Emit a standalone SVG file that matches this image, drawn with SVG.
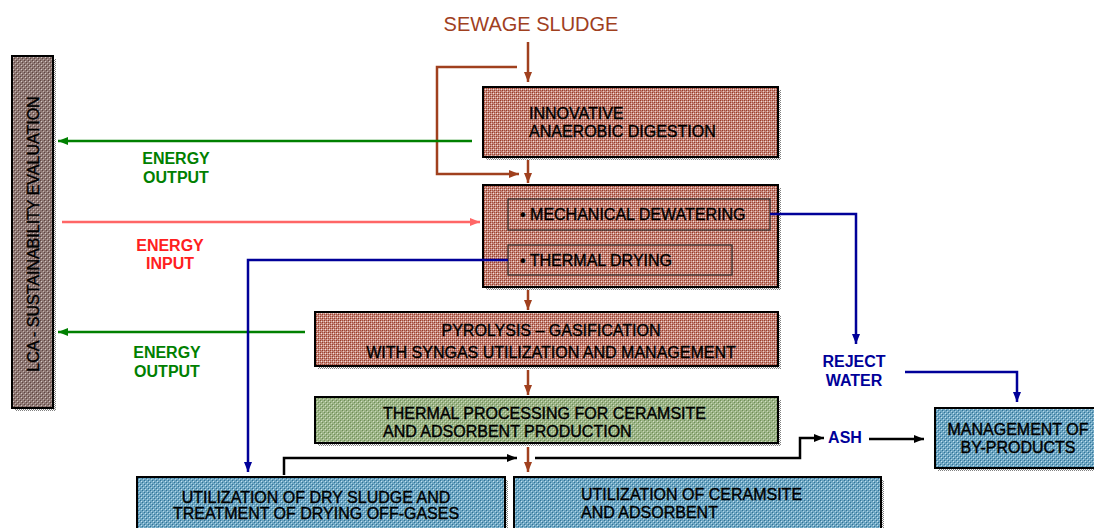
<svg xmlns="http://www.w3.org/2000/svg" width="1094" height="528" viewBox="0 0 1094 528">
<style>
.box{stroke:#000;stroke-width:2}
.bt{font-family:"Liberation Sans",Arial,sans-serif;font-size:16px;fill:#000;stroke:#000;stroke-width:0.4}
.lbl{font-family:"Liberation Sans",Arial,sans-serif;font-size:16px;font-weight:bold;text-anchor:middle}
.c{fill:none;stroke-width:2.5}
.br{stroke:#A0401E}
.gr{stroke:#008000}
.rd{stroke:#FF6666}
.bl{stroke:#000099}
.bk{stroke:#000}
.inner{fill:none;stroke:#2a2a2a;stroke-width:1.2}
</style>
<defs>
<pattern id="pBrown" width="4" height="4" patternUnits="userSpaceOnUse">
<rect width="4" height="4" fill="#C4857A"/>
<rect x="0" y="0" width="1" height="1" fill="#983A26"/>
<rect x="2" y="2" width="1" height="1" fill="#983A26"/>
<rect x="2" y="0" width="1" height="1" fill="#A4503E"/>
<rect x="0" y="2" width="1" height="1" fill="#A4503E"/>
<rect x="1" y="1" width="1" height="1" fill="#F4E0DC"/>
<rect x="3" y="3" width="1" height="1" fill="#ECCCC4"/>
<rect x="3" y="1" width="1" height="1" fill="#DCB0A6"/>
</pattern>
<pattern id="pGreen" width="4" height="4" patternUnits="userSpaceOnUse">
<rect width="4" height="4" fill="#9CB487"/>
<rect x="0" y="0" width="1" height="1" fill="#6E8E56"/>
<rect x="2" y="2" width="1" height="1" fill="#6E8E56"/>
<rect x="1" y="1" width="1" height="1" fill="#D4E2C6"/>
<rect x="3" y="3" width="1" height="1" fill="#C8D8B8"/>
</pattern>
<pattern id="pBlue" width="4" height="4" patternUnits="userSpaceOnUse">
<rect width="4" height="4" fill="#6EA6C2"/>
<rect x="0" y="0" width="1" height="1" fill="#2F7398"/>
<rect x="2" y="2" width="1" height="1" fill="#2F7398"/>
<rect x="1" y="1" width="1" height="1" fill="#C4E2F0"/>
<rect x="3" y="3" width="1" height="1" fill="#B0D6E8"/>
</pattern>
<pattern id="pLca" width="4" height="4" patternUnits="userSpaceOnUse">
<rect width="4" height="4" fill="#8E7874"/>
<rect x="0" y="0" width="1" height="1" fill="#5E4440"/>
<rect x="2" y="2" width="1" height="1" fill="#5E4440"/>
<rect x="1" y="1" width="1" height="1" fill="#D4C8C4"/>
<rect x="3" y="3" width="1" height="1" fill="#C0B0AC"/>
</pattern>
<pattern id="pShadow" width="2" height="2" patternUnits="userSpaceOnUse">
<rect width="2" height="2" fill="#ffffff"/>
<rect x="0" y="0" width="1" height="1" fill="#808080"/>
<rect x="1" y="1" width="1" height="1" fill="#808080"/>
</pattern>
<marker id="aBr" markerUnits="userSpaceOnUse" markerWidth="12" markerHeight="12" refX="10" refY="5" orient="auto"><path d="M0,1 L10,5 L0,9 Z" fill="#A0401E"/></marker>
<marker id="aGr" markerUnits="userSpaceOnUse" markerWidth="12" markerHeight="12" refX="10" refY="5" orient="auto"><path d="M0,1 L10,5 L0,9 Z" fill="#008000"/></marker>
<marker id="aRd" markerUnits="userSpaceOnUse" markerWidth="12" markerHeight="12" refX="10" refY="5" orient="auto"><path d="M0,1 L10,5 L0,9 Z" fill="#FF6666"/></marker>
<marker id="aBl" markerUnits="userSpaceOnUse" markerWidth="12" markerHeight="12" refX="10" refY="5" orient="auto"><path d="M0,1 L10,5 L0,9 Z" fill="#000099"/></marker>
<marker id="aBk" markerUnits="userSpaceOnUse" markerWidth="12" markerHeight="12" refX="10" refY="5" orient="auto"><path d="M0,1 L10,5 L0,9 Z" fill="#000"/></marker>
</defs>
<rect width="1094" height="528" fill="#fff"/>

<g id="sewage-sludge">
<text x="531" y="31" font-family="Liberation Sans, Arial, sans-serif" font-size="20" fill="#A0401E" text-anchor="middle">SEWAGE SLUDGE</text>
</g>

<g id="lca">
<rect x="15" y="59" width="41" height="352" fill="url(#pShadow)"/>
<rect class="box" x="12" y="56" width="41" height="352" fill="url(#pLca)"/>
<text class="bt" transform="translate(39,234) rotate(-90)" text-anchor="middle">LCA - SUSTAINABILITY EVALUATION</text>
</g>

<g id="anaerobic-digestion">
<rect x="486" y="90" width="295" height="70" fill="url(#pShadow)"/>
<rect class="box" x="483" y="87" width="295" height="70" fill="url(#pBrown)"/>
<text class="bt" x="529" y="119">INNOVATIVE</text>
<text class="bt" x="529" y="137">ANAEROBIC DIGESTION</text>
</g>

<g id="dewatering-drying">
<rect x="486" y="188" width="295" height="102" fill="url(#pShadow)"/>
<rect class="box" x="483" y="185" width="295" height="102" fill="url(#pBrown)"/>
<rect class="inner" x="508" y="199" width="262" height="31"/>
<rect class="inner" x="508" y="245" width="224" height="30"/>
<text class="bt" x="520" y="220">• MECHANICAL DEWATERING</text>
<text class="bt" x="520" y="266">• THERMAL DRYING</text>
</g>

<g id="pyrolysis">
<rect x="318" y="315" width="463" height="54" fill="url(#pShadow)"/>
<rect class="box" x="315" y="312" width="463" height="54" fill="url(#pBrown)"/>
<text class="bt" x="551" y="336" text-anchor="middle">PYROLYSIS – GASIFICATION</text>
<text class="bt" x="551" y="358" text-anchor="middle">WITH SYNGAS UTILIZATION AND MANAGEMENT</text>
</g>

<g id="thermal-processing">
<rect x="318" y="400" width="463" height="46" fill="url(#pShadow)"/>
<rect class="box" x="315" y="397" width="463" height="46" fill="url(#pGreen)"/>
<text class="bt" x="383" y="419">THERMAL PROCESSING FOR CERAMSITE</text>
<text class="bt" x="383" y="437">AND ADSORBENT PRODUCTION</text>
</g>

<g id="dry-sludge">
<rect x="140" y="480" width="368" height="60" fill="url(#pShadow)"/>
<rect class="box" x="137" y="477" width="368" height="60" fill="url(#pBlue)"/>
<text class="bt" x="316" y="503" text-anchor="middle">UTILIZATION OF DRY SLUDGE AND</text>
<text class="bt" x="316" y="519" text-anchor="middle">TREATMENT OF DRYING OFF-GASES</text>
</g>

<g id="ceramsite">
<rect x="517" y="480" width="367" height="60" fill="url(#pShadow)"/>
<rect class="box" x="514" y="477" width="367" height="60" fill="url(#pBlue)"/>
<text class="bt" x="581" y="500">UTILIZATION OF CERAMSITE</text>
<text class="bt" x="581" y="518">AND ADSORBENT</text>
</g>

<g id="by-products">
<rect x="938" y="411" width="170" height="60" fill="url(#pShadow)"/>
<rect class="box" x="935" y="408" width="170" height="60" fill="url(#pBlue)"/>
<text class="bt" x="1018" y="435" text-anchor="middle">MANAGEMENT OF</text>
<text class="bt" x="1018" y="453" text-anchor="middle">BY-PRODUCTS</text>
</g>

<g id="labels">
<text class="lbl" fill="#008000" x="176" y="164">ENERGY</text>
<text class="lbl" fill="#008000" x="176" y="183">OUTPUT</text>
<text class="lbl" fill="#FF2020" x="170" y="251">ENERGY</text>
<text class="lbl" fill="#FF2020" x="170" y="269">INPUT</text>
<text class="lbl" fill="#008000" x="167" y="358">ENERGY</text>
<text class="lbl" fill="#008000" x="167" y="377">OUTPUT</text>
<text class="lbl" fill="#000099" x="854" y="367">REJECT</text>
<text class="lbl" fill="#000099" x="854" y="386">WATER</text>
<text class="lbl" fill="#000099" x="845" y="443">ASH</text>
</g>

<g id="connectors">
<path class="c br" d="M528,42 V82" marker-end="url(#aBr)"/>
<path class="c br" d="M517,67 H437 V174 H519" marker-end="url(#aBr)"/>
<path class="c br" d="M528,160 V183" marker-end="url(#aBr)"/>
<path class="c br" d="M528,290 V310" marker-end="url(#aBr)"/>
<path class="c br" d="M528,370 V395" marker-end="url(#aBr)"/>
<path class="c br" d="M528,447 V472" marker-end="url(#aBr)"/>
<path class="c gr" d="M472,141 H58" marker-end="url(#aGr)"/>
<path class="c gr" d="M305,332 H58" marker-end="url(#aGr)"/>
<path class="c rd" d="M62,222 H480" marker-end="url(#aRd)"/>
<path class="c bl" d="M508,260 H248 V472" marker-end="url(#aBl)"/>
<path class="c bl" d="M770,214 H856 V344" marker-end="url(#aBl)"/>
<path class="c bl" d="M905,372 H1017 V402" marker-end="url(#aBl)"/>
<path class="c bk" d="M284,475 V458 H517" marker-end="url(#aBk)"/>
<path class="c bk" d="M535,458 H800 V438 H824" marker-end="url(#aBk)"/>
<path class="c bk" d="M869,439 H924" marker-end="url(#aBk)"/>
</g>
</svg>
